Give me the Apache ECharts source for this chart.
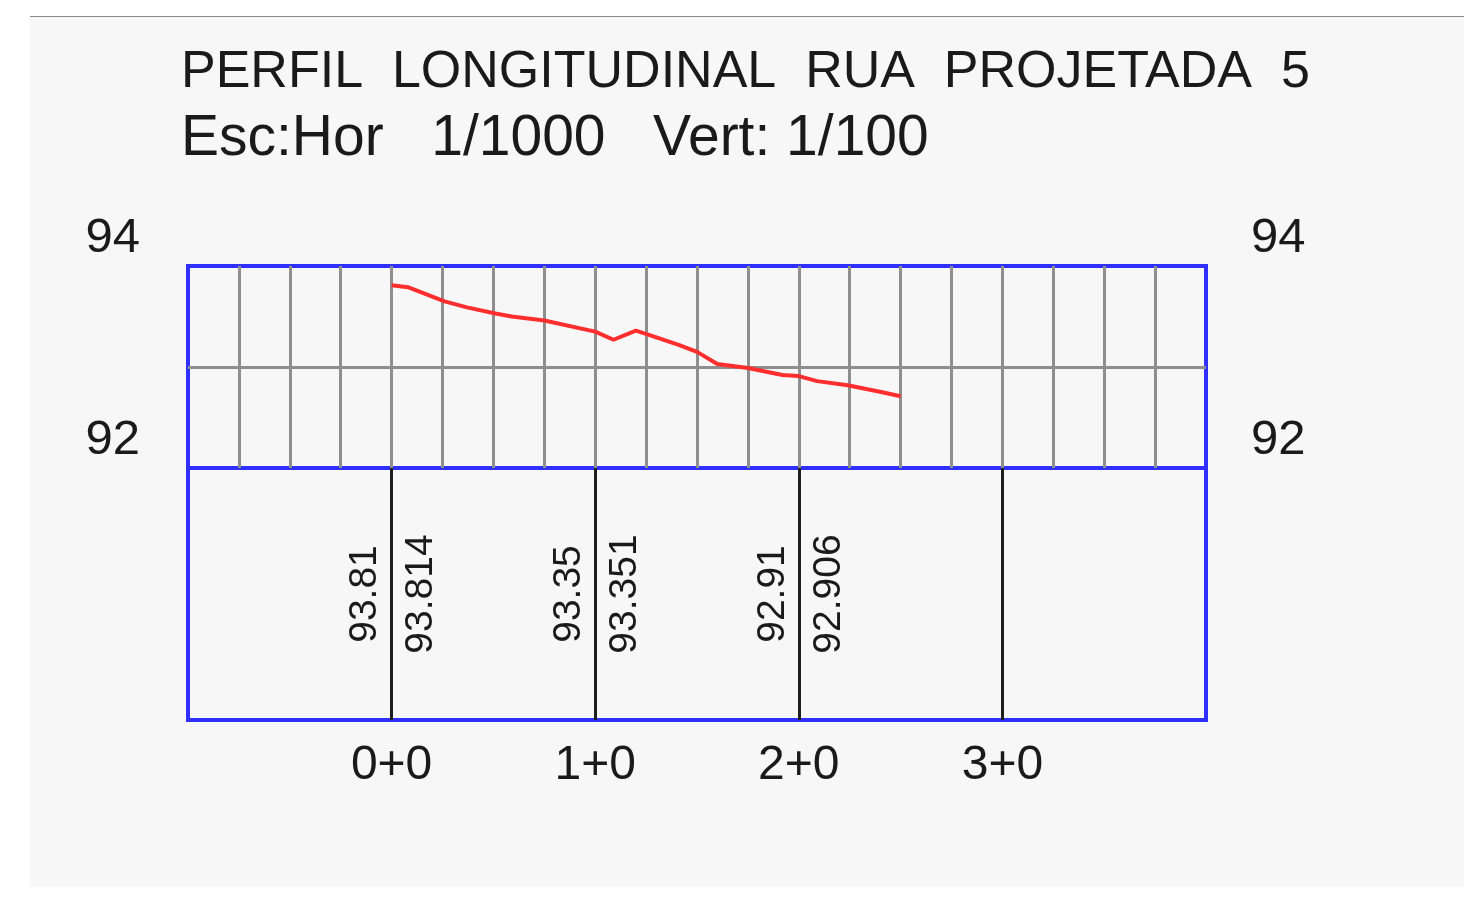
<!DOCTYPE html>
<html>
    <head>
        <meta charset="utf-8">
        <title>Perfil longitudinal</title>
        <script src="https://cdn.jsdelivr.net/npm/echarts@6/dist/echarts.min.js"></script>
        <style>
            body { margin: 0; background: #ffffff; }
            #panel {
                position: absolute; left: 30px; top: 16px;
                width: 1434px; height: 870px;
                border-top: 1px solid #8a8a8a;
                background: #f7f7f7;
            }
            #chart1 { width: 1434px; height: 870px; }
        </style>
    </head>
    <body>
        <div id="panel"><div id="chart1"></div></div>
    <script type="text/javascript">
        // estacas (m) e rótulos
        var stations = [0, 100, 200, 300];
        var stationLabels = ['0+0', '1+0', '2+0', '3+0'];
        // cotas exibidas no eixo vertical
        var elevTicks = [92, 94];

        // perfil do terreno
        var profileChainage = [0, 8, 26, 37, 51, 59, 75, 100, 109, 120, 126, 141, 150, 160, 175, 192, 200, 209, 224, 241, 250];
        var profileElev = [93.81, 93.79, 93.65, 93.59, 93.53, 93.50, 93.46, 93.35, 93.27, 93.36, 93.32, 93.22, 93.15, 93.03, 92.99, 92.92, 92.91, 92.86, 92.82, 92.75, 92.71];

        // cotas escritas na faixa inferior
        var labelStations = [0, 100, 200];
        var terrainElev = ['93.81', '93.35', '92.91'];
        var gradeElev = ['93.814', '93.351', '92.906'];

        var font = 'Liberation Sans';
        var blue = '#2f2fff';

        var myChart1 = echarts.init(document.getElementById('chart1'));
        myChart1.setOption({
            animation: false,
            backgroundColor: 'transparent',
            title: [
                {
                    text: 'PERFIL  LONGITUDINAL  RUA  PROJETADA  5',
                    left: 151, top: 30, padding: 0,
                    textStyle: { fontFamily: font, fontSize: 52, lineHeight: 52, fontWeight: 'normal', color: '#1a1a1a' }
                },
                {
                    text: 'Esc:Hor   1/1000   Vert: 1/100',
                    left: 151, top: 94, padding: 0,
                    textStyle: { fontFamily: font, fontSize: 57, lineHeight: 57, fontWeight: 'normal', color: '#1a1a1a' }
                }
            ],
            grid: [
                { left: 158, top: 249, width: 1018, height: 202, show: true, borderColor: blue, borderWidth: 4, backgroundColor: 'transparent' },
                { left: 158, top: 451, width: 1018, height: 252, show: true, borderColor: blue, borderWidth: 4, backgroundColor: 'transparent' }
            ],
            xAxis: [
                {
                    type: 'value', gridIndex: 0, min: -100, max: 400, interval: 25,
                    axisLine: { show: false }, axisTick: { show: false }, axisLabel: { show: false },
                    splitLine: { show: true, showMinLine: false, showMaxLine: false, lineStyle: { color: '#8e8e8e', width: 3 } }
                },
                {
                    type: 'value', gridIndex: 1, min: -100, max: 400, interval: 100,
                    axisLine: { show: false }, axisTick: { show: false },
                    axisLabel: {
                        margin: 22, fontFamily: font, fontSize: 48, lineHeight: 48, color: '#1a1a1a',
                        formatter: function (v) {
                            var i = stations.indexOf(v);
                            return i < 0 ? '' : stationLabels[i];
                        }
                    },
                    splitLine: { show: true, showMinLine: false, showMaxLine: false, lineStyle: { color: '#1e1e1e', width: 3 } }
                }
            ],
            yAxis: [
                {
                    type: 'value', gridIndex: 0, min: 92, max: 94, interval: 1,
                    axisLine: { show: false }, axisTick: { show: false },
                    axisLabel: {
                        margin: 48, fontFamily: font, fontSize: 49, lineHeight: 49, verticalAlign: 'bottom',
                        padding: [0, 0, 3, 0], color: '#1a1a1a',
                        formatter: function (v) { return elevTicks.indexOf(v) < 0 ? '' : String(v); }
                    },
                    splitLine: { show: true, showMinLine: false, showMaxLine: false, lineStyle: { color: '#8e8e8e', width: 3 } }
                },
                {
                    type: 'value', gridIndex: 0, position: 'right', min: 92, max: 94, interval: 1,
                    axisLine: { show: false }, axisTick: { show: false },
                    axisLabel: {
                        margin: 45, fontFamily: font, fontSize: 49, lineHeight: 49, verticalAlign: 'bottom',
                        padding: [0, 0, 3, 0], color: '#1a1a1a',
                        formatter: function (v) { return elevTicks.indexOf(v) < 0 ? '' : String(v); }
                    },
                    splitLine: { show: false }
                },
                {
                    type: 'value', gridIndex: 1, min: 0, max: 1, show: false
                }
            ],
            series: [
                {
                    name: 'Terreno', type: 'line', xAxisIndex: 0, yAxisIndex: 0,
                    symbol: 'none', lineStyle: { color: '#ff2e2e', width: 4 },
                    data: profileChainage.map(function (c, i) { return [c, profileElev[i]]; })
                },
                {
                    name: 'Cota terreno', type: 'scatter', xAxisIndex: 1, yAxisIndex: 2,
                    symbolSize: 2, itemStyle: { color: 'rgba(0,0,0,0)', opacity: 1 },
                    label: {
                        show: true, position: 'inside', rotate: 90, offset: [0, -26],
                        fontFamily: font, fontSize: 39, color: '#1a1a1a', opacity: 1,
                        formatter: function (p) { return p.value[2]; }
                    },
                    data: labelStations.map(function (s, i) { return [s, 0.5, terrainElev[i]]; })
                },
                {
                    name: 'Cota projeto', type: 'scatter', xAxisIndex: 1, yAxisIndex: 2,
                    symbolSize: 2, itemStyle: { color: 'rgba(0,0,0,0)', opacity: 1 },
                    label: {
                        show: true, position: 'inside', rotate: 90, offset: [0, 30],
                        fontFamily: font, fontSize: 39, color: '#1a1a1a', opacity: 1,
                        formatter: function (p) { return p.value[2]; }
                    },
                    data: labelStations.map(function (s, i) { return [s, 0.5, gradeElev[i]]; })
                }
            ]
        });
    </script>
    </body>
</html>
